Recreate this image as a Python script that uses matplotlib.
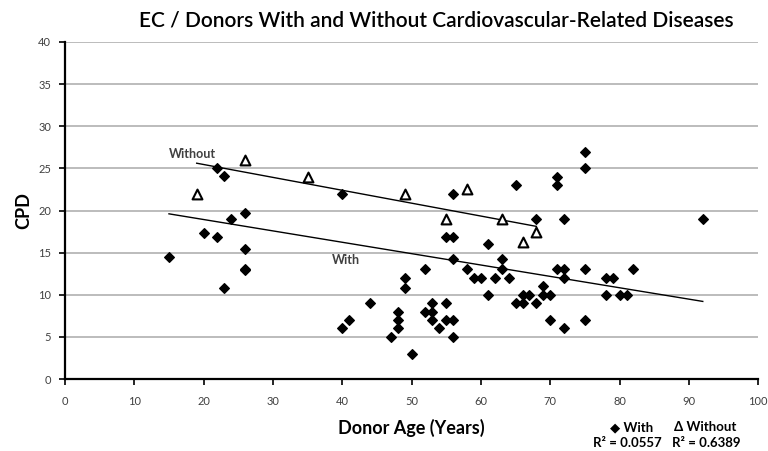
import numpy as np
from matplotlib import pyplot as plt

plt.rcParams["font.family"] = ["Lato", "DejaVu Sans"]

# donors with cardiovascular-related diseases
with_age = [15, 20, 22, 23, 22, 23, 24, 26, 26, 26, 26,
            40, 40, 41, 44, 47, 48, 48, 48, 49, 49, 50,
            52, 52, 53, 53, 53, 54, 55, 56, 56, 55, 55, 56, 56, 56,
            58, 59, 60, 61, 61, 62, 63, 63, 64, 65, 65, 66, 66, 67,
            68, 68, 69, 69, 70, 70, 71, 71, 71, 72, 72, 72, 72,
            75, 75, 75, 75, 78, 79, 78, 80, 81, 82, 92]
with_cpd = [14.5, 17.3, 25, 24.1, 16.9, 10.8, 19, 19.7, 15.4, 12.9, 13.1,
            22, 6, 7, 9, 5, 8, 7, 6, 12, 10.8, 3,
            13, 8, 9, 8, 7, 6, 16.9, 16.9, 14.2, 9, 7, 7, 5, 22,
            13, 12, 12, 16, 10, 12, 14.2, 13, 12, 23, 9, 9, 10, 10,
            19, 9, 11, 10, 10, 7, 24, 23, 13, 13, 12, 19, 6,
            27, 25, 13, 7, 12, 12, 10, 10, 10, 13, 19]

# donors without cardiovascular-related diseases
without_age = [19, 26, 35, 49, 55, 58, 63, 66, 68]
without_cpd = [22, 26, 24, 22, 19, 22.5, 19, 16.3, 17.5]

# linear trendlines as shown on the chart (slope, intercept)
with_trend = (-0.135, 21.63)
without_trend = (-0.153, 28.52)
with_r2 = "0.0557"
without_r2 = "0.6389"

x_ticks = list(range(0, 101, 10))
y_ticks = list(range(0, 41, 5))


def trend(x, coef):
    xs = np.array([min(x), max(x)])
    return xs, coef[0] * xs + coef[1]


fig = plt.figure(figsize=(7.68, 4.51), dpi=100)
ax = fig.add_axes([0.0846, 0.1596, 0.9027, 0.7473])

ax.set_xlim(0, 100)
ax.set_ylim(0, 40)
ax.set_xticks(x_ticks)
ax.set_yticks(y_ticks)
ax.grid(True, axis="y", color="#b0b0b0", linewidth=1.2)
ax.set_axisbelow(True)
for s in ["top", "right"]:
    ax.spines[s].set_visible(False)
for s in ["left", "bottom"]:
    ax.spines[s].set_linewidth(1.6)
ax.tick_params(direction="out", length=4, width=1.2, labelsize=8,
               labelcolor="#404040", pad=6)
ax.tick_params(axis="x", pad=8)

ax.scatter(with_age, with_cpd, marker="D", s=24, color="black", zorder=3,
           clip_on=False)
ax.scatter(without_age, without_cpd, marker="^", s=50, facecolors="white",
           edgecolors="black", linewidths=1.5, zorder=3)

xs, ys = trend(with_age, with_trend)
ax.plot(xs, ys, color="black", linewidth=1)
xs, ys = trend(without_age, without_trend)
ax.plot(xs, ys, color="black", linewidth=1)

ax.text(15, 26.2, "Without", fontsize=9, fontweight="bold", color="#404040")
ax.text(38.5, 13.6, "With", fontsize=9, fontweight="bold", color="#404040")

ax.set_ylabel("CPD", fontsize=13, fontweight="bold", labelpad=4)
fig.text(0.535, 0.052, "Donor Age (Years)", fontsize=13, fontweight="bold",
         ha="center", va="center")
fig.suptitle("EC / Donors With and Without Cardiovascular-Related Diseases",
             x=0.568, y=0.977, fontsize=15, fontweight="semibold")

# legend with R² values
fig.text(0.822, 0.053, "\u25c6 With", fontsize=9.5, fontweight="bold",
         ha="center", va="center")
fig.text(0.817, 0.018, "R\u00b2 = " + with_r2, fontsize=9.5,
         fontweight="bold", ha="center", va="center")
fig.text(0.918, 0.053, "\u0394 Without", fontsize=9.5, fontweight="bold",
         ha="center", va="center")
fig.text(0.920, 0.018, "R\u00b2 = " + without_r2, fontsize=9.5,
         fontweight="bold", ha="center", va="center")

fig.savefig("out.png", dpi=100)
